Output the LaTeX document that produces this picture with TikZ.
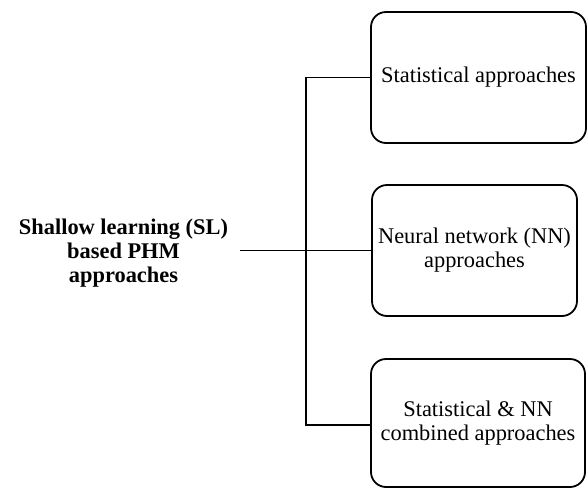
\documentclass[tikz,border=0pt]{standalone}
\usepackage{fontspec}
\setmainfont{Liberation Serif}
\begin{document}
\begin{tikzpicture}[x=1pt,y=-1pt,
  txt/.style={font=\fontsize{22.4}{24}\selectfont, align=center, inner sep=0pt},
  catbox/.style={txt, draw, line width=1.8pt, rounded corners=15pt},
  link/.style={line width=1.9pt}]
  \useasboundingbox (0,0) rectangle (587,488);

  % root label
  \node[txt, font=\fontsize{22.4}{24}\selectfont\bfseries] (sl) at (123.5,253)
    {Shallow learning (SL)\\based PHM\\approaches};

  % category boxes
  \node[catbox, minimum width=215pt, minimum height=131pt] (b1) at (478.5,77.5)
    {Statistical approaches};
  \node[catbox, minimum width=205pt, minimum height=131pt] (b2) at (474.5,250.5)
    {Neural network (NN)\\approaches};
  \node[catbox, minimum width=214pt, minimum height=128pt] (b3) at (478,423)
    {Statistical \& NN\\combined approaches};

  % tree connectors
  \coordinate (slout) at (240,250.5);
  \coordinate (jt) at (306,77.5);
  \coordinate (jb) at (306,425);
  \draw[link] (slout) -- (b2.west);
  \draw[link] (b1.west) -- (jt) -- (jb) -- (b3.west |- jb);
\end{tikzpicture}
\end{document}
